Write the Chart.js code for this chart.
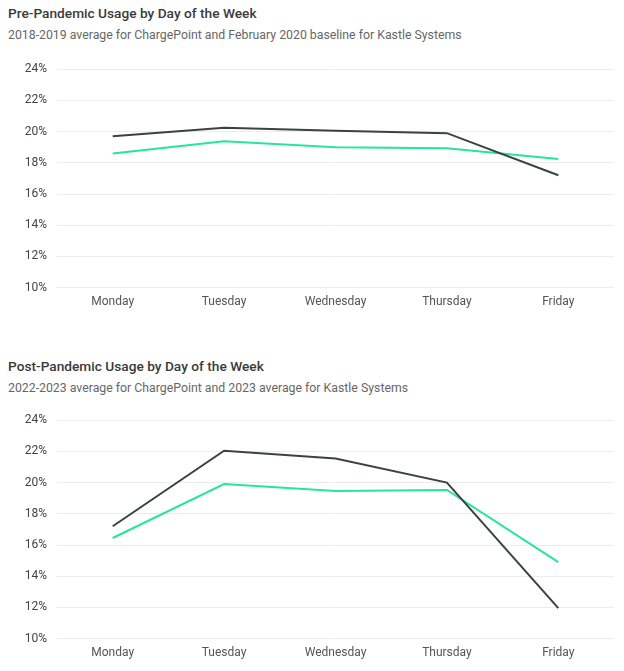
<!DOCTYPE html>
<html>
<head>
<meta charset="utf-8">
<script src="https://cdn.jsdelivr.net/npm/chart.js@4"></script>
<style>
  body { margin: 0; background: #fff; font-family: Roboto, "Noto Sans", sans-serif; }
  .wrap { position: relative; width: 624px; height: 671px; }
  .title { position: absolute; left: 8px; font-size: 13.7px; font-weight: 500; color: #3a3a3a; }
  .sub { position: absolute; left: 8px; font-size: 12.3px; color: #666; }
  .box { position: absolute; left: 0; width: 624px; height: 264px; }
</style>
</head>
<body>
<div class="wrap">
  <div class="title" style="top:5px">Pre-Pandemic Usage by Day of the Week</div>
  <div class="sub" style="top:28px">2018-2019 average for ChargePoint and February 2020 baseline for Kastle Systems</div>
  <div class="box" style="top:52px"><canvas id="preChart"></canvas></div>

  <div class="title" style="top:358px">Post-Pandemic Usage by Day of the Week</div>
  <div class="sub" style="top:381px">2022-2023 average for ChargePoint and 2023 average for Kastle Systems</div>
  <div class="box" style="top:403px"><canvas id="postChart"></canvas></div>
</div>
<script>
const days = ["Monday", "Tuesday", "Wednesday", "Thursday", "Friday"];
const yTicks = [10, 12, 14, 16, 18, 20, 22, 24];

// pre-pandemic
const kastlePre = [19.7, 20.24, 20.06, 19.9, 17.2];
const chargePointPre = [18.6, 19.38, 19.0, 18.93, 18.24];

// post-pandemic
const kastlePost = [17.2, 22.04, 21.55, 20.0, 11.95];
const chargePointPost = [16.45, 19.91, 19.46, 19.53, 14.9];

const darkColor = "#3b4242";
const greenColor = "#27e59b";

function makeChart(id, kastle, chargePoint) {
    const ctx = document.getElementById(id).getContext("2d");
    return new Chart(ctx, {
        type: "line",
        data: {
            labels: days,
            datasets: [
                {
                    label: "Kastle Systems",
                    data: kastle,
                    borderColor: darkColor,
                    borderWidth: 2,
                    pointRadius: 0,
                    tension: 0
                },
                {
                    label: "ChargePoint",
                    data: chargePoint,
                    borderColor: greenColor,
                    borderWidth: 2,
                    pointRadius: 0,
                    tension: 0
                }
            ]
        },
        options: {
            responsive: true,
            maintainAspectRatio: false,
            animation: false,
            layout: { padding: { top: 14, right: 10, bottom: 0, left: 0 } },
            plugins: {
                legend: { display: false },
                tooltip: { enabled: false }
            },
            scales: {
                x: {
                    offset: true,
                    grid: { display: false, drawTicks: false },
                    border: { display: false },
                    ticks: {
                        padding: 7,
                        color: "#555",
                        font: { family: "Roboto", size: 12 }
                    }
                },
                y: {
                    min: 10,
                    max: 24,
                    afterFit: (scale) => { scale.width = 57; },
                    afterBuildTicks: (scale) => {
                        scale.ticks = yTicks.map(v => ({ value: v }));
                    },
                    grid: { color: "#ececec", drawTicks: false },
                    border: { display: false },
                    ticks: {
                        padding: 10,
                        color: "#3d4545",
                        font: { family: "Roboto", size: 12 },
                        callback: (v) => v + "%"
                    }
                }
            }
        }
    });
}

makeChart("preChart", kastlePre, chargePointPre);
makeChart("postChart", kastlePost, chargePointPost);
</script>
</body>
</html>
